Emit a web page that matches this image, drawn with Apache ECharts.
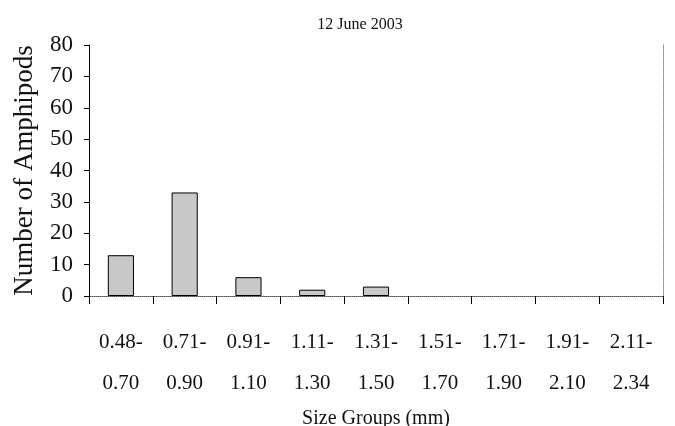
<!DOCTYPE html>
<html>
<head>
<meta charset="utf-8">
<script src="https://cdn.jsdelivr.net/npm/echarts@6/dist/echarts.min.js"></script>
<style>
html,body{margin:0;padding:0;background:#fff;}
#chart{width:675px;height:426px;}
</style>
</head>
<body>
<div id="chart"></div>
<script>
var categories = ["0.48-\n0.70","0.71-\n0.90","0.91-\n1.10","1.11-\n1.30","1.31-\n1.50","1.51-\n1.70","1.71-\n1.90","1.91-\n2.10","2.11-\n2.34"];
var counts = [13, 33, 6, 2, 3, 0, 0, 0, 0];
var titleText = "12 June 2003";
var xName = "Size Groups (mm)";
var yName = "Number of Amphipods";

var font = "Liberation Serif";
var chart = echarts.init(document.getElementById('chart'));
chart.setOption({
  backgroundColor: '#fff',
  animation: false,
  title: {
    text: titleText, left: 355, top: 12, textAlign: 'center',
    textStyle: {fontFamily: font, fontSize: 16, fontWeight: 'normal', color: '#111'}
  },
  grid: {left: 89, right: 12, top: 45, bottom: 130, containLabel: false, outerBoundsMode: 'none'},
  xAxis: [{
    type: 'category', data: categories,
    name: xName, nameLocation: 'middle', nameGap: 106,
    nameTextStyle: {fontFamily: font, fontSize: 20, color: '#111'},
    axisLine: {lineStyle: {color: '#000', width: 1}},
    axisTick: {show: true, length: 8, lineStyle: {color: '#000'}},
    axisLabel: {fontFamily: font, fontSize: 21, color: '#111', lineHeight: 41, margin: 26, interval: 0}
  }, {
    type: 'category', data: categories, position: 'top',
    axisLine: {lineStyle: {color: '#888', type: 'dotted'}},
    axisTick: {show: false}, axisLabel: {show: false}
  }],
  yAxis: [{
    type: 'value', min: 0, max: 80, interval: 10,
    name: yName, nameLocation: 'middle', nameGap: 51, nameRotate: 90,
    nameTextStyle: {fontFamily: font, fontSize: 27, color: '#111'},
    axisLine: {show: true, lineStyle: {color: '#000', width: 1}},
    axisTick: {show: true, length: 5, lineStyle: {color: '#000'}},
    axisLabel: {fontFamily: font, fontSize: 23, color: '#111', margin: 16},
    splitLine: {show: false}
  }, {
    type: 'value', min: 0, max: 80, interval: 10, position: 'right',
    axisLine: {show: true, lineStyle: {color: '#888', type: 'dotted'}},
    axisTick: {show: false}, axisLabel: {show: false}, splitLine: {show: false}
  }],
  series: [{
    type: 'bar', barWidth: '41%',
    data: counts.map(function (v) {
      return v === 0 ? {value: v, itemStyle: {borderWidth: 0}} : v;
    }),
    itemStyle: {color: '#c8c8c8', borderColor: '#000', borderWidth: 1}
  }]
});
</script>
</body>
</html>
